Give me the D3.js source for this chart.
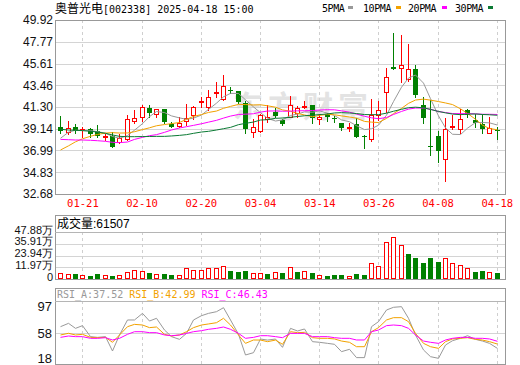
<!DOCTYPE html>
<html>
<head>
<meta charset="utf-8">
<script src="https://cdn.jsdelivr.net/npm/d3@7/dist/d3.min.js"></script>
<style>
  body { margin: 0; background: #fff; }
  svg { display: block; }
</style>
</head>
<body>
<div class="canvas"></div>
<script>
// trading days shown on the chart
const dates = ['01-16','01-17','01-20','01-21','01-22','01-23','01-24','01-27',
    '02-05','02-06','02-07','02-10','02-11','02-12','02-13','02-14','02-17','02-18','02-19','02-20',
    '02-21','02-24','02-25','02-26','02-27','02-28','03-03','03-04','03-05','03-06','03-07','03-10',
    '03-11','03-12','03-13','03-14','03-17','03-18','03-19','03-20','03-21','03-24','03-25','03-26',
    '03-27','03-28','03-31','04-01','04-02','04-03','04-07','04-08','04-09','04-10','04-11','04-14',
    '04-15','04-16','04-17','04-18'];
const dateTicks = ['01-21','02-10','02-20','03-04','03-14','03-26','04-08','04-18'];

// daily prices
const open = [39.35,38.85,39.32,39.06,39.09,38.92,38.40,38.46,37.80,38.10,39.88,40.28,41.20,40.61,41.07,
    39.59,39.45,39.91,40.51,41.80,41.27,42.74,42.06,43.00,42.89,41.67,38.85,38.95,40.08,40.83,40.01,40.34,
    40.74,41.38,41.50,40.08,40.61,40.18,39.74,39.27,39.62,38.38,38.10,40.51,42.76,45.29,45.13,44.04,45.07,
    41.50,37.40,38.43,36.12,39.33,39.09,41.00,40.01,39.59,38.75,38.98];
const high = [40.41,39.91,39.62,39.29,39.25,39.49,38.65,38.79,38.59,40.51,41.00,41.50,41.50,41.10,41.10,
    39.84,40.34,41.57,41.40,42.26,42.98,43.81,44.47,43.31,42.90,41.92,40.11,40.64,41.47,41.17,40.14,42.39,
    41.40,41.89,41.50,40.61,40.74,40.41,39.75,39.69,40.18,38.53,42.06,41.92,45.13,48.66,48.43,47.54,45.46,
    42.26,42.00,38.92,40.18,40.51,41.07,41.07,40.58,40.58,40.34,39.35];
const low = [38.69,38.59,38.69,38.36,38.36,38.30,38.05,37.31,37.70,38.03,39.69,39.94,40.28,40.34,39.75,
    39.29,39.35,39.52,40.08,41.27,41.00,42.32,41.99,42.72,41.67,38.69,38.30,38.79,39.84,40.34,39.49,40.28,
    40.34,41.17,39.69,39.62,39.94,39.84,39.02,38.95,38.34,37.21,37.96,40.01,40.85,45.10,43.81,43.91,42.32,
    39.69,36.54,35.88,34.00,39.09,38.69,40.28,39.29,38.75,38.75,38.10];
const close = [38.95,39.25,38.92,39.10,38.59,38.43,38.45,37.31,38.20,40.08,40.21,41.30,40.74,41.07,39.78,
    39.35,39.69,40.24,41.27,41.85,42.26,42.78,43.38,42.96,41.83,39.09,39.29,40.48,40.28,40.41,39.62,41.50,
    41.17,41.42,40.18,40.34,40.28,40.10,39.19,39.31,38.36,38.34,40.51,41.00,44.24,45.10,45.46,45.04,42.49,
    40.24,37.35,36.97,39.09,39.37,40.08,40.51,39.74,39.15,39.19,38.94];
const prevClose = 38.80;

// moving averages
const ma5 = [38.20,38.80,39.00,38.97,38.96,38.86,38.70,38.38,38.20,38.47,39.00,39.65,40.35,40.85,40.75,
    40.42,40.22,40.08,40.20,40.50,41.06,41.68,42.31,42.65,42.64,42.01,41.31,40.73,40.19,39.91,40.02,40.46,
    40.60,40.82,40.78,40.92,40.68,40.46,40.02,39.84,39.45,39.06,39.14,39.50,40.49,41.84,43.26,44.17,44.47,
    43.67,42.12,40.42,39.23,38.60,38.57,39.20,39.76,39.77,39.73,39.51];
const ma10 = [37.04,37.45,37.85,38.15,38.40,38.58,38.72,38.76,38.72,38.73,38.85,39.06,39.24,39.44,39.56,
    39.65,39.77,40.07,40.37,40.55,40.76,40.90,41.17,41.36,41.56,41.54,41.50,41.52,41.42,41.28,41.01,40.88,
    40.66,40.51,40.34,40.47,40.57,40.53,40.42,40.31,40.19,39.87,39.80,39.76,40.17,40.64,41.16,41.66,41.99,
    42.08,41.98,41.84,41.70,41.54,41.12,40.66,40.09,39.50,39.17,39.04];
const ma20 = [38.09,38.06,38.03,38.03,38.00,37.96,37.90,37.80,37.77,37.83,38.09,38.29,38.46,38.56,38.79,
    39.02,39.22,39.35,39.48,39.64,39.80,39.98,40.20,40.40,40.56,40.59,40.63,40.79,40.90,40.91,40.88,40.89,
    40.92,40.93,40.95,41.00,41.03,41.02,40.92,40.79,40.60,40.38,40.23,40.14,40.26,40.56,40.86,41.09,41.20,
    41.19,41.08,40.85,40.75,40.65,40.64,40.65,40.62,40.58,40.58,40.56];
const ma30 = [39.09,39.02,38.99,38.96,38.89,38.82,38.69,38.53,38.39,38.36,38.36,38.37,38.38,38.39,38.39,
    38.43,38.49,38.56,38.69,38.82,38.89,39.02,39.15,39.28,39.55,39.68,39.81,40.01,40.04,40.18,40.21,40.28,
    40.36,40.43,40.49,40.55,40.61,40.71,40.74,40.71,40.65,40.55,40.54,40.54,40.69,40.88,41.07,41.23,41.28,
    41.22,41.06,40.86,40.72,40.60,40.54,40.59,40.61,40.56,40.53,40.48];

// volume in 万
const volume = [5.8,4.8,5.1,4.1,3.4,5.1,4.1,3.4,4.1,6.8,8.9,8.1,6.1,4.8,5.1,4.4,4.1,10.9,9.5,9.5,
    10.9,10.9,13.2,8.1,7.1,8.1,5.8,6.4,5.1,6.8,6.1,12.2,7.1,7.8,6.1,3.8,3.1,4.1,4.1,2.7,
    5.1,4.1,16.0,12.9,37.4,42.5,34.3,25.5,21.4,16.3,21.4,17.3,21.1,16.0,14.0,10.9,7.1,8.1,6.8,6.1507];

// rsi
const rsiA = [64.8,69.0,62.7,66.1,52.3,51.4,52.3,34.3,54.4,73.2,73.2,81.5,71.9,75.3,60.6,52.3,48.9,56.4,
    73.2,78.6,81.5,83.6,88.6,73.2,55.2,29.3,32.2,49.3,48.0,49.3,38.9,62.7,59.4,61.9,46.0,45.2,43.9,42.7,
    33.5,36.4,26.0,26.0,64.8,71.1,85.7,89.1,89.9,75.3,54.4,35.6,27.2,25.1,41.8,47.2,50.2,53.5,48.9,46.8,
    43.9,37.52];
const rsiB = [54.4,56.5,54.4,55.2,51.4,51.0,51.4,45.2,54.4,64.8,67.7,66.9,63.6,64.4,55.2,53.1,54.4,58.5,
    63.6,66.9,68.2,69.8,75.3,66.9,54.4,43.9,48.1,48.0,46.0,48.0,42.7,58.5,57.3,57.7,51.0,50.2,50.2,49.4,
    46.8,45.2,39.7,39.7,58.5,63.6,73.2,76.1,76.1,71.1,56.4,43.9,39.7,37.6,46.0,49.4,50.2,51.0,48.9,48.0,
    46.0,42.99];
const rsiC = [51.4,53.1,52.3,52.3,50.2,50.2,51.0,48.1,50.2,55.2,58.5,58.5,57.3,57.3,54.4,53.5,54.4,56.4,
    58.5,59.8,61.5,62.7,64.4,61.5,56.4,50.2,51.4,53.5,53.5,52.3,51.0,56.4,56.4,56.4,52.3,52.3,52.3,51.0,
    50.2,50.2,48.1,48.1,58.5,60.6,66.1,66.9,66.1,62.7,54.4,46.8,45.2,43.9,48.1,50.2,51.4,51.4,50.2,50.2,
    49.4,46.43];

// tick labels
const priceTicks = [49.92, 47.77, 45.61, 43.46, 41.30, 39.14, 36.99, 34.83, 32.68];
const volTicks = [47.88, 35.91, 23.94, 11.97, 0];
const rsiTicks = [97, 57.5, 18];

const red = '#ff0000';
const green = '#008000';
const maColors = ['#999999', '#f2a200', '#ff00ff', '#0b7a34'];

const svg = d3.select('.canvas')
    .append('svg')
    .attr('width', 520)
    .attr('height', 365);

// panel boxes
const left = 55, right = 505;
const main = { top: 20, bottom: 194 };
const vol = { top: 215, head: 232, bottom: 279 };
const rsi = { top: 288, head: 301, bottom: 364 };

// scales
const x = d3.scaleBand()
    .domain(dates)
    .range([56.5, 500.5]);
const cx = d => Math.round(x(d) + x.bandwidth() / 2);

const y = d3.scaleLinear().domain([32.68, 49.92]).range([main.bottom, main.top]);
const yVol = d3.scaleLinear().domain([0, 47.88]).range([vol.bottom, vol.head]);
const yRsi = d3.scaleLinear().domain([18, 97]).range([rsi.bottom, rsi.head]);

// watermark
svg.append('text')
    .attr('x', 233)
    .attr('y', 117)
    .attr('font-family', 'Noto Sans CJK SC')
    .attr('font-size', 30)
    .attr('font-weight', 'bold')
    .attr('letter-spacing', 5)
    .attr('fill', '#e3e3e3')
    .text('东方财富');

// horizontal grid
const hGrid = (vals, scale) => svg.append('g')
    .selectAll('line')
    .data(vals)
    .enter().append('line')
    .attr('x1', left).attr('x2', right)
    .attr('y1', d => Math.round(scale(d)) + 0.5)
    .attr('y2', d => Math.round(scale(d)) + 0.5)
    .attr('stroke', '#d4d4d4');

hGrid(priceTicks, y);
hGrid(volTicks, yVol);
hGrid([57.5], yRsi);

// vertical dashed grid
[[main.top, main.bottom], [vol.head, vol.bottom], [rsi.head, rsi.bottom]].forEach(([t, b]) => {
    svg.append('g')
        .selectAll('line')
        .data(dateTicks)
        .enter().append('line')
        .attr('x1', d => cx(d) + 0.5).attr('x2', d => cx(d) + 0.5)
        .attr('y1', t).attr('y2', b)
        .attr('stroke', '#cfcfcf')
        .attr('stroke-dasharray', '3,3');
});

// frames
[[main.top, main.bottom], [vol.top, vol.bottom], [rsi.top, rsi.bottom]].forEach(([t, b]) => {
    svg.append('rect')
        .attr('x', left + 0.5).attr('y', t + 0.5)
        .attr('width', right - left).attr('height', b - t)
        .attr('fill', 'none')
        .attr('stroke', '#999');
});
[vol.head, rsi.head].forEach(h => {
    svg.append('line')
        .attr('x1', left).attr('x2', right)
        .attr('y1', h + 0.5).attr('y2', h + 0.5)
        .attr('stroke', '#b5b5b5');
});

// candles
const idx = d3.range(dates.length);
const candles = svg.append('g');

candles.selectAll('line')
    .data(idx)
    .enter().append('line')
    .attr('x1', i => cx(dates[i]) + 0.5).attr('x2', i => cx(dates[i]) + 0.5)
    .attr('y1', i => Math.round(y(high[i])))
    .attr('y2', i => Math.round(y(low[i])) + 1)
    .attr('stroke', i => close[i] >= open[i] ? red : green);

candles.selectAll('rect')
    .data(idx)
    .enter().append('rect')
    .each(function (i) {
        const up = close[i] >= open[i];
        const t = Math.round(y(Math.max(open[i], close[i])));
        const b = Math.round(y(Math.min(open[i], close[i])));
        const r = d3.select(this);
        if (up) {
            r.attr('x', cx(dates[i]) - 2 + 0.5).attr('y', t + 0.5)
                .attr('width', 4).attr('height', Math.max(1, b - t))
                .attr('fill', '#fff').attr('stroke', red);
        } else {
            r.attr('x', cx(dates[i]) - 2).attr('y', t)
                .attr('width', 5).attr('height', Math.max(1, b - t))
                .attr('fill', green);
        }
    });

// moving average lines
const maLine = d3.line()
    .x((d, i) => cx(dates[i]) + 0.5)
    .y(d => y(d));

[ma5, ma10, ma20, ma30].forEach((ma, k) => {
    svg.append('path')
        .attr('d', maLine(ma))
        .attr('fill', 'none')
        .attr('stroke', maColors[k])
        .attr('stroke-width', 1);
});

// volume bars (colour from close vs previous close)
svg.append('g')
    .selectAll('rect')
    .data(idx)
    .enter().append('rect')
    .each(function (i) {
        const prev = i === 0 ? prevClose : close[i - 1];
        const up = close[i] >= prev;
        const t = Math.round(yVol(volume[i]));
        const r = d3.select(this);
        if (up) {
            r.attr('x', cx(dates[i]) - 2 + 0.5).attr('y', t + 0.5)
                .attr('width', 4).attr('height', vol.bottom - t - 1)
                .attr('fill', '#fff').attr('stroke', red);
        } else {
            r.attr('x', cx(dates[i]) - 2).attr('y', t)
                .attr('width', 5).attr('height', vol.bottom - t)
                .attr('fill', green);
        }
    });

// rsi lines
const rsiLine = d3.line()
    .x((d, i) => cx(dates[i]) + 0.5)
    .y(d => yRsi(d));

[rsiA, rsiB, rsiC].forEach((r, k) => {
    svg.append('path')
        .attr('d', rsiLine(r))
        .attr('fill', 'none')
        .attr('stroke', maColors[k])
        .attr('stroke-width', 1);
});

// axes
const styleAxis = (g, size) => {
    g.select('.domain').remove();
    g.selectAll('text')
        .attr('font-family', 'Liberation Sans, Arial, sans-serif')
        .attr('font-size', size)
        .attr('fill', '#111');
};

svg.append('g')
    .attr('transform', `translate(${left}, 0)`)
    .call(d3.axisLeft(y).tickValues(priceTicks).tickSize(0).tickPadding(2).tickFormat(d3.format('.2f')))
    .call(g => styleAxis(g, 12));

svg.append('g')
    .attr('transform', `translate(${left}, 0)`)
    .call(d3.axisLeft(yVol).tickValues(volTicks).tickSize(0).tickPadding(2)
        .tickFormat(d => d === 0 ? '0' : d3.format('.2f')(d) + '万'))
    .call(g => styleAxis(g, 11))
    .call(g => g.selectAll('text').attr('dy', 1));

svg.append('g')
    .attr('transform', `translate(${left}, 0)`)
    .call(d3.axisLeft(yRsi).tickValues(rsiTicks).tickSize(0).tickPadding(3).tickFormat(d3.format('.0f')))
    .call(g => styleAxis(g, 13))
    .call(g => g.selectAll('text').attr('dy', (d, i) => [9.5, 4.5, -2][i]));

const xAxisGroup = svg.append('g')
    .attr('transform', `translate(0, ${main.bottom})`)
    .call(d3.axisBottom(x).tickValues(dateTicks).tickSize(0).tickPadding(6));
xAxisGroup.select('.domain').remove();
xAxisGroup.selectAll('text')
    .attr('x', 0.5)
    .attr('font-family', 'DejaVu Sans Mono, monospace')
    .attr('font-size', 10.5)
    .attr('fill', red);

// titles
const title = svg.append('text')
    .attr('x', 55)
    .attr('y', 13)
    .attr('fill', '#000');
title.append('tspan')
    .attr('font-family', 'Noto Sans CJK SC')
    .attr('font-size', 12)
    .text('奥普光电');
title.append('tspan')
    .attr('font-family', 'DejaVu Sans Mono, monospace')
    .attr('font-size', 10)
    .text('[002338] 2025-04-18 15:00');

// ma legend
const legend = [
    { label: '5PMA', tx: 322, rx: 348 },
    { label: '10PMA', tx: 363, rx: 396 },
    { label: '20PMA', tx: 408, rx: 442 },
    { label: '30PMA', tx: 455, rx: 488 }
];
legend.forEach((l, k) => {
    svg.append('text')
        .attr('x', l.tx).attr('y', 12)
        .attr('font-family', 'DejaVu Sans Mono, monospace')
        .attr('font-size', 10)
        .attr('letter-spacing', -0.4)
        .attr('fill', '#000')
        .text(l.label);
    svg.append('rect')
        .attr('x', l.rx).attr('y', 6)
        .attr('width', 5).attr('height', 3)
        .attr('fill', maColors[k]);
});

// volume header
const volTitle = svg.append('text')
    .attr('x', 57)
    .attr('y', 228)
    .attr('fill', '#000');
volTitle.append('tspan')
    .attr('font-family', 'Noto Sans CJK SC')
    .attr('font-size', 12)
    .text('成交量');
volTitle.append('tspan')
    .attr('font-family', 'Liberation Sans, Arial, sans-serif')
    .attr('font-size', 12)
    .text(':' + Math.round(volume[volume.length - 1] * 10000));

// rsi header
const rsiTitle = svg.append('text')
    .attr('x', 57)
    .attr('y', 298)
    .attr('font-family', 'DejaVu Sans Mono, monospace')
    .attr('font-size', 10);
[['RSI_A', rsiA], ['RSI_B', rsiB], ['RSI_C', rsiC]].forEach(([name, arr], k) => {
    rsiTitle.append('tspan')
        .attr('fill', maColors[k])
        .text(`${name}:${arr[arr.length - 1].toFixed(2)}` + (k < 2 ? ' ' : ''));
});
</script>
</body>
</html>
